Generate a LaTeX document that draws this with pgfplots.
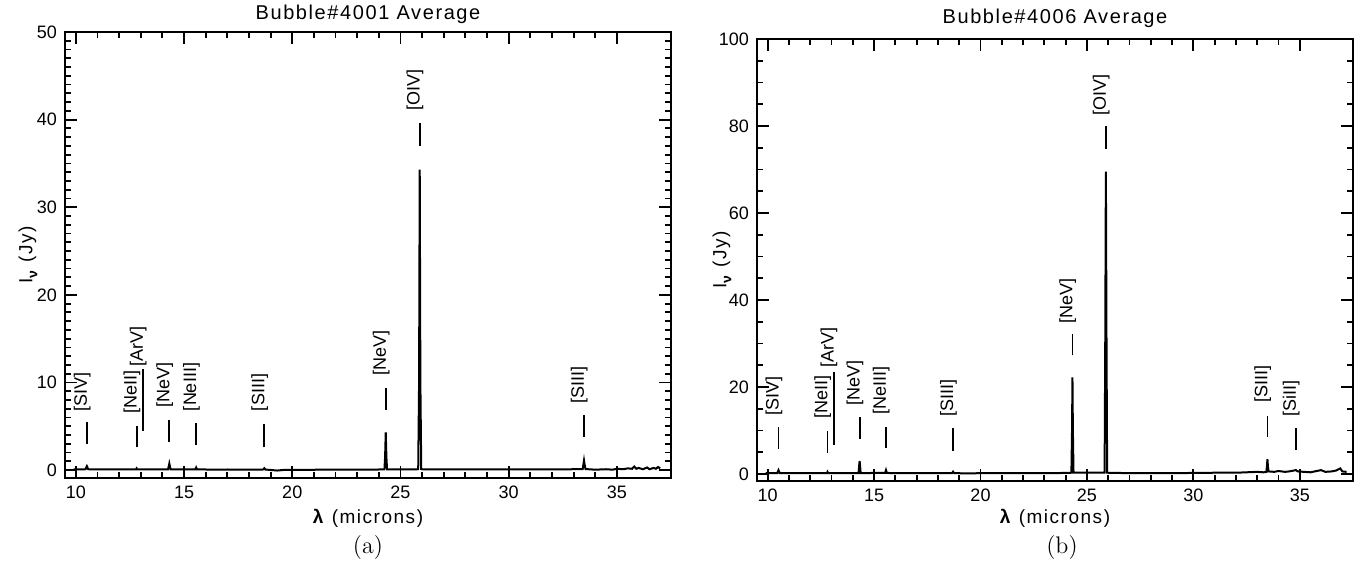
\documentclass[border=0pt]{standalone}
\usepackage{fontspec}
\usepackage{pgfplots}
\pgfplotsset{compat=1.18}
\newfontfamily\idl{Liberation Sans}
\newfontfamily\idlw{Liberation Sans}[LetterSpace=8]

\pgfplotstableread{
x y
9.90 0.08
10.20 0.08
10.45 0.10
10.49 0.35
10.51 0.45
10.53 0.35
10.57 0.10
11.0 0.08
11.5 0.07
12.0 0.08
12.5 0.07
12.78 0.08
12.81 0.20
12.84 0.08
13.3 0.07
13.8 0.08
14.26 0.08
14.29 0.40
14.32 0.75
14.35 0.40
14.38 0.08
15.0 0.07
15.52 0.08
15.56 0.30
15.60 0.08
16.0 0.07
16.5 0.06
17.0 0.07
17.5 0.06
18.0 0.06
18.66 0.07
18.71 0.22
18.76 0.06
19.0 0.02
19.3 -0.05
19.6 0.02
20.0 0.03
20.5 0.04
21.0 0.04
21.5 0.05
22.0 0.05
22.5 0.05
23.0 0.06
23.5 0.06
24.0 0.07
24.26 0.08
24.29 1.5
24.32 4.3
24.35 1.5
24.38 0.08
25.0 0.09
25.5 0.09
25.82 0.10
25.86 10
25.89 34.3
25.92 10
25.96 0.10
26.5 0.08
27.0 0.08
28.0 0.07
29.0 0.07
30.0 0.08
31.0 0.09
32.0 0.08
33.0 0.10
33.42 0.12
33.45 0.6
33.48 1.1
33.51 0.6
33.55 0.12
34.0 0.05
34.5 0.10
34.8 0.05
35.0 0.15
35.3 0.10
35.5 0.20
35.7 0.15
35.8 0.40
35.9 0.15
36.0 0.25
36.2 0.10
36.4 0.30
36.5 0.10
36.7 0.25
36.8 0.15
36.9 0.35
37.0 0.20
}\specA

\pgfplotstableread{
x y
9.90 0.2
10.45 0.2
10.51 0.9
10.57 0.2
11.0 0.2
11.5 0.2
12.0 0.2
12.5 0.2
12.78 0.2
12.81 0.5
12.84 0.2
13.5 0.2
14.0 0.2
14.27 0.2
14.30 2
14.32 3.0
14.34 2
14.37 0.2
15.0 0.25
15.52 0.25
15.56 0.9
15.60 0.25
16.0 0.2
17.0 0.2
18.0 0.2
18.66 0.2
18.71 0.55
18.76 0.2
19.5 0.15
20.0 0.2
21.0 0.2
22.0 0.2
23.0 0.2
24.0 0.25
24.27 0.3
24.30 10
24.32 22.2
24.34 10
24.37 0.3
25.0 0.3
25.5 0.3
25.83 0.3
25.86 30
25.89 69.5
25.92 30
25.95 0.3
26.5 0.25
27.0 0.2
28.0 0.2
29.0 0.2
30.0 0.25
31.0 0.3
32.0 0.3
32.5 0.4
33.0 0.5
33.3 0.4
33.43 0.5
33.46 2
33.48 3.4
33.50 2
33.53 0.6
33.8 0.5
34.0 0.7
34.3 0.5
34.5 0.6
34.82 0.9
34.9 0.6
35.2 0.5
35.5 0.4
35.8 0.7
36.0 0.9
36.2 0.5
36.5 0.6
36.7 0.8
36.9 1.3
37.0 0.6
37.2 0.5
}\specB

\tikzset{
  lab/.style={rotate=90, anchor=base west, inner sep=0pt, font=\idl\fontsize{9}{10}\selectfont},
  mk/.style={line width=0.9pt, black},
}

\pgfplotsset{idlstyle/.style={
  scale only axis,
  xmin=9.5, xmax=37.5,
  xtick={10,15,...,35}, minor x tick num=4,
  tick align=inside, xtick pos=both, ytick pos=both,
  xticklabel pos=bottom, yticklabel pos=left,
  major tick length=6pt, minor tick length=3pt,
  axis line style={line width=1.2pt},
  every tick/.append style={line width=0.9pt, black},
  tick label style={font=\idl\fontsize{9}{10}\selectfont},
  /pgf/number format/assume math mode=true,
  xticklabel style={anchor=base, yshift=-10.5pt},
  yticklabel style={xshift=-0.5pt},
  every axis x label/.style={at={(axis description cs:0.5,0)}, anchor=base, yshift=-23pt, font=\idlw\fontsize{9.5}{11}\selectfont},
  every axis y label/.style={at={(axis description cs:-0.061,0.5)}, anchor=center, rotate=90, font=\idlw\fontsize{9.5}{11}\selectfont},
  every axis title/.style={at={(axis description cs:0.5,1)}, anchor=base, yshift=6.3pt, font=\idlw\fontsize{10}{12}\selectfont},
  xlabel={\textbf{λ} (microns)},
  ylabel={I\raisebox{-0.5ex}{\fontsize{7}{8}\selectfont\textbf{ν}} (Jy)},
}}

\begin{document}
\begin{tikzpicture}
\useasboundingbox (0,0) rectangle (685.5pt,-282.5pt);

\begin{axis}[idlstyle,
  at={(32.5pt,-239pt)}, anchor=south west,
  width=303pt, height=223pt,
  ymin=-0.9, ymax=50,
  ytick={0,10,...,50}, minor y tick num=9,
  title={Bubble\#4001 Average}]
\addplot[black, line width=1pt] table[x=x,y=y] {\specA};
\addplot[mk] coordinates {(10.51,3.0) (10.51,5.5)};
\addplot[mk] coordinates {(12.81,2.6) (12.81,5.0)};
\addplot[mk] coordinates {(13.10,4.5) (13.10,11.5)};
\addplot[mk] coordinates {(14.32,3.2) (14.32,5.7)};
\addplot[mk] coordinates {(15.56,2.9) (15.56,5.4)};
\addplot[mk] coordinates {(18.71,2.6) (18.71,5.3)};
\addplot[mk] coordinates {(24.32,6.9) (24.32,9.4)};
\addplot[mk] coordinates {(25.89,37.0) (25.89,39.6)};
\addplot[mk] coordinates {(33.48,3.8) (33.48,6.3)};
\node[lab] at (axis cs:10.51,6.6) {[SIV]};
\node[lab] at (axis cs:12.81,6.4) {[NeII]};
\node[lab] at (axis cs:13.10,11.8) {[ArV]};
\node[lab] at (axis cs:14.32,7.1) {[NeV]};
\node[lab] at (axis cs:15.56,6.7) {[NeIII]};
\node[lab] at (axis cs:18.71,6.7) {[SIII]};
\node[lab] at (axis cs:24.32,10.7) {[NeV]};
\node[lab] at (axis cs:25.89,41.0) {[OIV]};
\node[lab] at (axis cs:33.48,7.5) {[SIII]};
\end{axis}

\begin{axis}[idlstyle,
  at={(378.5pt,-240.5pt)}, anchor=south west,
  width=298pt, height=221pt,
  ymin=-1.6, ymax=100,
  ytick={0,20,...,100}, minor y tick num=3,
  every axis y label/.append style={at={(axis description cs:-0.0587,0.5)}},
  every axis x label/.append style={yshift=1.5pt},
  every axis title/.append style={yshift=1.2pt},
  title={Bubble\#4006 Average}]
\addplot[black, line width=1pt] table[x=x,y=y] {\specB};
\addplot[mk] coordinates {(10.51,5.7) (10.51,10.8)};
\addplot[mk] coordinates {(12.81,4.8) (12.81,9.8)};
\addplot[mk] coordinates {(13.10,6.7) (13.10,23.4)};
\addplot[mk] coordinates {(14.32,8.0) (14.32,13.1)};
\addplot[mk] coordinates {(15.56,5.9) (15.56,10.9)};
\addplot[mk] coordinates {(18.71,5.4) (18.71,10.5)};
\addplot[mk] coordinates {(24.32,27.3) (24.32,32.1)};
\addplot[mk] coordinates {(25.89,74.8) (25.89,79.9)};
\addplot[mk] coordinates {(33.48,8.5) (33.48,13.4)};
\addplot[mk] coordinates {(34.82,5.5) (34.82,10.5)};
\node[lab] at (axis cs:10.51,13.4) {[SIV]};
\node[lab] at (axis cs:12.81,12.7) {[NeII]};
\node[lab] at (axis cs:13.10,24.5) {[ArV]};
\node[lab] at (axis cs:14.32,15.7) {[NeV]};
\node[lab] at (axis cs:15.56,13.6) {[NeIII]};
\node[lab] at (axis cs:18.71,13.1) {[SIII]};
\node[lab] at (axis cs:24.32,34.4) {[NeV]};
\node[lab] at (axis cs:25.89,82.4) {[OIV]};
\node[lab] at (axis cs:33.48,16.3) {[SIII]};
\node[lab] at (axis cs:34.82,13.2) {[SiII]};
\end{axis}

\node[font=\fontsize{12}{14}\selectfont] at (184pt,-274pt) {(a)};
\node[font=\fontsize{12}{14}\selectfont] at (531pt,-274pt) {(b)};
\end{tikzpicture}
\end{document}
